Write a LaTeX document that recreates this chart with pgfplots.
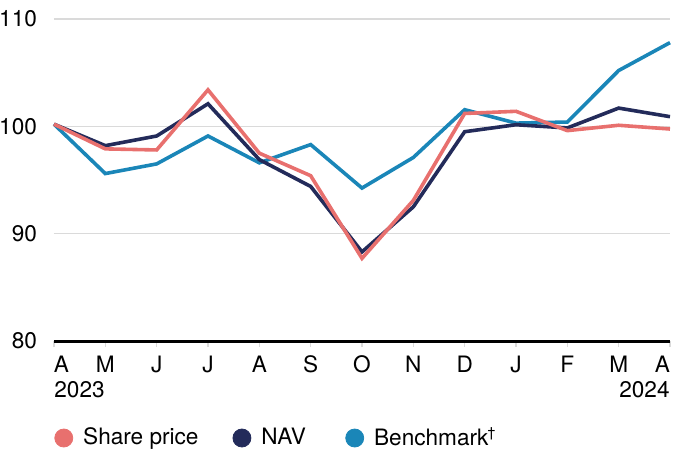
\documentclass[border=0pt]{standalone}
\usepackage{pgfplots}
\pgfplotsset{compat=1.18}
\usepackage{fontspec}
\setmainfont{TeX Gyre Heros}
\definecolor{sharered}{RGB}{232,112,110}
\definecolor{navnavy}{RGB}{35,43,90}
\definecolor{benchblue}{RGB}{26,134,184}
\definecolor{gridgray}{RGB}{218,218,218}
\newcommand{\chartfont}{\fontsize{11.3}{13.5}\selectfont}
\begin{document}
\begin{tikzpicture}[font=\chartfont]
\begin{axis}[
  scale only axis,
  width=308pt, height=161pt,
  xmin=0, xmax=12, ymin=80, ymax=110,
  xtick={0,...,12},
  xticklabels={\makebox[0pt][l]{A},M,J,J,A,S,O,N,D,J,F,M,\makebox[0pt][r]{A}},
  ytick={80,90,100,110},
  ymajorgrids, grid style={gridgray, line width=0.6pt},
  axis x line*=bottom, axis y line*=left,
  x axis line style={-, line width=1.5pt, black},
  y axis line style={draw=none},
  ytick style={draw=none},
  xtick style={gridgray, line width=0.6pt},
  tick align=outside, major tick length=3pt,
  /pgf/number format/assume math mode=true,
  tick label style={font=\chartfont},
  xticklabel style={yshift=-1pt},
  yticklabel style={xshift=-2pt},
  legend columns=3,
  legend style={at={(rel axis cs:0,0)}, anchor=west, yshift=-48.5pt, draw=none, fill=none, inner sep=0pt,
    font=\chartfont, nodes={inner xsep=5pt},
    /tikz/every even column/.append style={column sep=12pt}},
  legend image code/.code={\fill (4.5pt,0pt) circle (4.5pt);},
  legend cell align=left,
  clip=false,
]
\addlegendimage{sharered}\addlegendentry{Share price}
\addlegendimage{navnavy}\addlegendentry{\makebox[25pt][l]{NAV}}
\addlegendimage{benchblue}\addlegendentry{Benchmark\textsuperscript{\kern-0.5pt\scriptsize\dag}}

\addplot[benchblue, line width=1.8pt, forget plot] coordinates {
(0,100.2) (1,95.6) (2,96.5) (3,99.1) (4,96.6) (5,98.3) (6,94.25)
(7,97.1) (8,101.55) (9,100.3) (10,100.4) (11,105.2) (12,107.8)};
\addplot[navnavy, line width=1.8pt, forget plot] coordinates {
(0,100.2) (1,98.2) (2,99.1) (3,102.1) (4,96.9) (5,94.4) (6,88.3)
(7,92.5) (8,99.5) (9,100.15) (10,99.85) (11,101.7) (12,100.9)};
\addplot[sharered, line width=1.8pt, forget plot] coordinates {
(0,100.2) (1,97.9) (2,97.8) (3,103.4) (4,97.5) (5,95.4) (6,87.7)
(7,93.1) (8,101.2) (9,101.4) (10,99.6) (11,100.1) (12,99.75)};

\node[anchor=north west, inner sep=0pt] at (axis cs:0,80) [yshift=-20pt] {2023};
\node[anchor=north east, inner sep=0pt] at (axis cs:12,80) [yshift=-20pt] {2024};
\end{axis}
\pgfresetboundingbox
\path[use as bounding box] (-27pt,-55pt) rectangle (309.5pt,170.5pt);
\end{tikzpicture}
\end{document}
